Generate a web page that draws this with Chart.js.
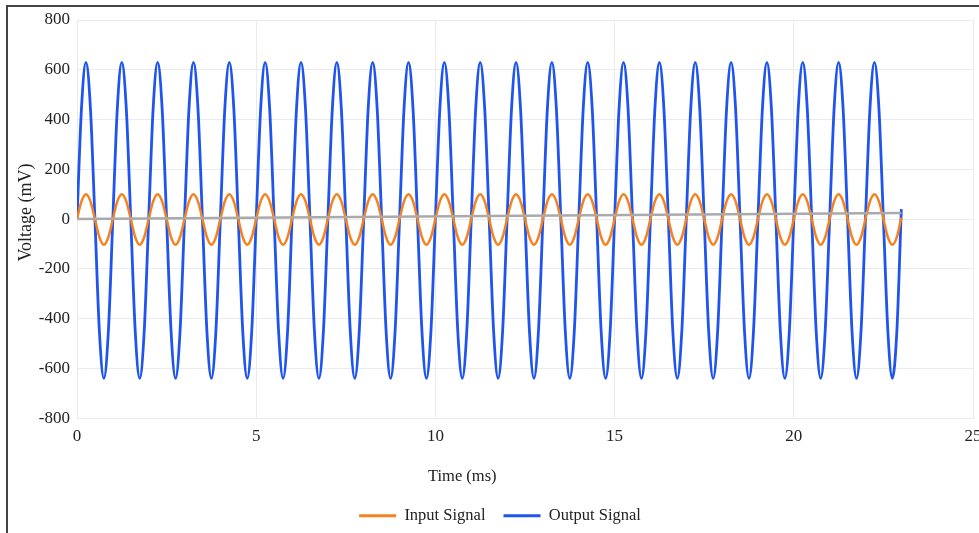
<!DOCTYPE html>
<html>
<head>
<meta charset="utf-8">
<script src="https://cdn.jsdelivr.net/npm/chart.js@4.4.1/dist/chart.umd.min.js"></script>
<style>
  html, body { margin: 0; padding: 0; background: #fff; }
  #wrap { position: relative; width: 979px; height: 533px; overflow: hidden; }
  #frame { position: absolute; left: 6px; top: 5px; right: -10px; bottom: -10px; border-top: 2px solid #444; border-left: 2px solid #444; pointer-events: none; }
  canvas { position: absolute; left: 0; top: 0; }
</style>
</head>
<body>
<div id="wrap">
  <canvas id="c" width="979" height="533"></canvas>
  <div id="frame"></div>
</div>
<script>
// Time samples (ms)
const timeMs = [
  0,0.125,0.25,0.375,0.5,0.625,0.75,0.875,
  1,1.125,1.25,1.375,1.5,1.625,1.75,1.875,
  2,2.125,2.25,2.375,2.5,2.625,2.75,2.875,
  3,3.125,3.25,3.375,3.5,3.625,3.75,3.875,
  4,4.125,4.25,4.375,4.5,4.625,4.75,4.875,
  5,5.125,5.25,5.375,5.5,5.625,5.75,5.875,
  6,6.125,6.25,6.375,6.5,6.625,6.75,6.875,
  7,7.125,7.25,7.375,7.5,7.625,7.75,7.875,
  8,8.125,8.25,8.375,8.5,8.625,8.75,8.875,
  9,9.125,9.25,9.375,9.5,9.625,9.75,9.875,
  10,10.125,10.25,10.375,10.5,10.625,10.75,10.875,
  11,11.125,11.25,11.375,11.5,11.625,11.75,11.875,
  12,12.125,12.25,12.375,12.5,12.625,12.75,12.875,
  13,13.125,13.25,13.375,13.5,13.625,13.75,13.875,
  14,14.125,14.25,14.375,14.5,14.625,14.75,14.875,
  15,15.125,15.25,15.375,15.5,15.625,15.75,15.875,
  16,16.125,16.25,16.375,16.5,16.625,16.75,16.875,
  17,17.125,17.25,17.375,17.5,17.625,17.75,17.875,
  18,18.125,18.25,18.375,18.5,18.625,18.75,18.875,
  19,19.125,19.25,19.375,19.5,19.625,19.75,19.875,
  20,20.125,20.25,20.375,20.5,20.625,20.75,20.875,
  21,21.125,21.25,21.375,21.5,21.625,21.75,21.875,
  22,22.125,22.25,22.375,22.5,22.625,22.75,22.875,
  23
];
// Input signal (mV)
const inputMv = [
  0,71,100,71,0,-73,-103,-73,
  0,71,100,71,0,-73,-103,-73,
  0,71,100,71,0,-73,-103,-73,
  0,71,100,71,0,-73,-103,-73,
  0,71,100,71,0,-73,-103,-73,
  0,71,100,71,0,-73,-103,-73,
  0,71,100,71,0,-73,-103,-73,
  0,71,100,71,0,-73,-103,-73,
  0,71,100,71,0,-73,-103,-73,
  0,71,100,71,0,-73,-103,-73,
  0,71,100,71,0,-73,-103,-73,
  0,71,100,71,0,-73,-103,-73,
  0,71,100,71,0,-73,-103,-73,
  0,71,100,71,0,-73,-103,-73,
  0,71,100,71,0,-73,-103,-73,
  0,71,100,71,0,-73,-103,-73,
  0,71,100,71,0,-73,-103,-73,
  0,71,100,71,0,-73,-103,-73,
  0,71,100,71,0,-73,-103,-73,
  0,71,100,71,0,-73,-103,-73,
  0,71,100,71,0,-73,-103,-73,
  0,71,100,71,0,-73,-103,-73,
  0,71,100,71,0,-73,-103,-73,
  6
];
// Output signal (mV)
const outputMv = [
  0,445,630,445,0,-452,-640,-452,
  0,445,630,445,0,-452,-640,-452,
  0,445,630,445,0,-452,-640,-452,
  0,445,630,445,0,-452,-640,-452,
  0,445,630,445,0,-452,-640,-452,
  0,445,630,445,0,-452,-640,-452,
  0,445,630,445,0,-452,-640,-452,
  0,445,630,445,0,-452,-640,-452,
  0,445,630,445,0,-452,-640,-452,
  0,445,630,445,0,-452,-640,-452,
  0,445,630,445,0,-452,-640,-452,
  0,445,630,445,0,-452,-640,-452,
  0,445,630,445,0,-452,-640,-452,
  0,445,630,445,0,-452,-640,-452,
  0,445,630,445,0,-452,-640,-452,
  0,445,630,445,0,-452,-640,-452,
  0,445,630,445,0,-452,-640,-452,
  0,445,630,445,0,-452,-640,-452,
  0,445,630,445,0,-452,-640,-452,
  0,445,630,445,0,-452,-640,-452,
  0,445,630,445,0,-452,-640,-452,
  0,445,630,445,0,-452,-640,-452,
  0,445,630,445,0,-452,-640,-452,
  40
];
// Gray baseline (unlabelled)
const baselineTime = [0, 23];
const baselineMv = [0, 24];

const xTicks = [0, 5, 10, 15, 20, 25];
const yTicks = [-800, -600, -400, -200, 0, 200, 400, 600, 800];
const xTitle = 'Time (ms)';
const yTitle = 'Voltage (mV)';

const toPts = (xs, ys) => xs.map((x, i) => ({ x: x, y: ys[i] }));
const FONT = "'Liberation Serif', 'Times New Roman', serif";

// Draws the axis titles where the reference places them (slightly off-centre).
const axisTitlePlugin = {
  id: 'axisTitlePlugin',
  afterDraw(chart) {
    const sx = chart.scales.x;
    const sy = chart.scales.y;
    const ctx = chart.ctx;
    ctx.save();
    ctx.fillStyle = '#222';
    ctx.textAlign = 'center';
    ctx.textBaseline = 'middle';
    ctx.font = "16.5px " + FONT;
    ctx.fillText(xTitle, sx.left + (sx.right - sx.left) * 0.43, sx.bottom - 12.4);
    ctx.font = "18px " + FONT;
    ctx.translate(sy.left - 1.2, (sy.top + sy.bottom) / 2 - 6.5);
    ctx.rotate(-Math.PI / 2);
    ctx.fillText(yTitle, 0, 0);
    ctx.restore();
  }
};

new Chart(document.getElementById('c'), {
  type: 'line',
  data: {
    datasets: [
      { label: 'Baseline', data: toPts(baselineTime, baselineMv), borderColor: '#aaaaaa', backgroundColor: '#aaaaaa', borderWidth: 2.5, pointRadius: 0, tension: 0 },
      { label: 'Input Signal', data: toPts(timeMs, inputMv), borderColor: '#f5821f', backgroundColor: '#f5821f', borderWidth: 2.5, pointRadius: 0, cubicInterpolationMode: 'monotone' },
      { label: 'Output Signal', data: toPts(timeMs, outputMv), borderColor: '#1f55ee', backgroundColor: '#1f55ee', borderWidth: 2.8, pointRadius: 0, cubicInterpolationMode: 'monotone' }
    ]
  },
  plugins: [axisTitlePlugin],
  options: {
    responsive: false,
    animation: false,
    layout: { padding: { top: 20, right: 6, left: 27, bottom: -1 } },
    plugins: {
      legend: {
        position: 'bottom',
        labels: {
          font: { family: FONT, size: 16.5 },
          color: '#222',
          boxWidth: 37,
          boxHeight: 3,
          padding: 18,
          filter: (item) => item.datasetIndex !== 0,
          generateLabels: (chart) => {
            const items = Chart.defaults.plugins.legend.labels.generateLabels(chart);
            items.forEach(it => { it.lineWidth = 0; });
            return items;
          }
        }
      },
      tooltip: { enabled: false }
    },
    scales: {
      x: {
        type: 'linear',
        min: 0, max: 25,
        afterBuildTicks: (axis) => { axis.ticks = xTicks.map(v => ({ value: v })); },
        afterFit: (axis) => { axis.paddingLeft = 0; axis.paddingRight = 0; axis.height = 71.4; },
        ticks: { font: { family: FONT, size: 17 }, color: '#222', padding: 8, maxRotation: 0 },
        grid: { color: '#ebebeb', drawTicks: false },
        border: { color: '#ebebeb' },
        title: { display: false }
      },
      y: {
        min: -800, max: 800,
        afterBuildTicks: (axis) => { axis.ticks = yTicks.map(v => ({ value: v })); },
        afterFit: (axis) => { axis.paddingTop = 0; axis.paddingBottom = 0; axis.width = 50; },
        ticks: { font: { family: FONT, size: 17 }, color: '#222', padding: 7 },
        grid: { color: '#ebebeb', drawTicks: false },
        border: { color: '#ebebeb' },
        title: { display: false }
      }
    }
  }
});
</script>
</body>
</html>
